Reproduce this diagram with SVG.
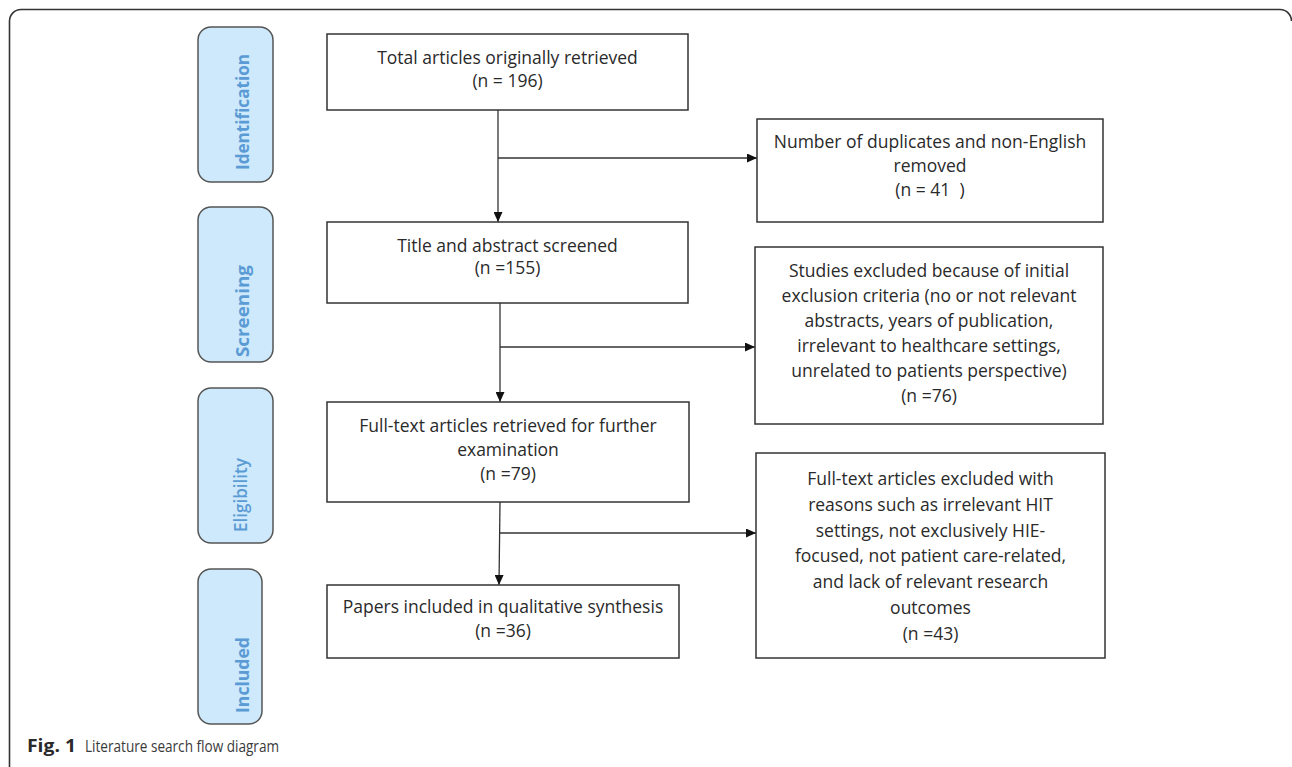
<svg xmlns="http://www.w3.org/2000/svg" width="1292" height="767" viewBox="0 0 1292 767">
<defs>
<style>
.frame{fill:none;stroke:#333;stroke-width:1.6}
.box{fill:#fff;stroke:#333;stroke-width:1.5}
.phase{fill:#cde9fb;stroke:#555;stroke-width:1.5}
.t{font-family:"Open Sans","Noto Sans","Liberation Sans",sans-serif;font-size:17.5px;fill:#2a2a2a;text-anchor:middle}
.pl{font-family:"Open Sans","Noto Sans","Liberation Sans",sans-serif;font-size:18px;font-weight:bold;fill:#5b9bd5}
.cap{font-family:"Open Sans","Noto Sans","Liberation Sans",sans-serif;font-size:16px;fill:#3a3a3a}
.capb{font-family:"Open Sans","Noto Sans","Liberation Sans",sans-serif;font-size:17px;font-weight:bold;fill:#2a2a2a}
.ln{fill:none;stroke:#333;stroke-width:1.3}
</style>
<marker id="ah" markerWidth="10" markerHeight="9" refX="10" refY="4.5" orient="auto" markerUnits="userSpaceOnUse">
<path d="M0,0 L10,4.5 L0,9 z" fill="#111"/>
</marker>
</defs>
<rect width="1292" height="767" fill="#fff"/>
<path class="frame" d="M9.5 767 V21 A11.5 11.5 0 0 1 21 9.5 H1280 A11.5 11.5 0 0 1 1291.5 21"/>

<g id="phase-identification">
<rect class="phase" x="198" y="27" width="75" height="155" rx="13"/>
<text class="pl" transform="translate(249,170) rotate(-90)" textLength="116" lengthAdjust="spacingAndGlyphs">Identification</text>
</g>
<g id="phase-screening">
<rect class="phase" x="198" y="207" width="75" height="155" rx="13"/>
<text class="pl" transform="translate(249,357) rotate(-90)" textLength="92" lengthAdjust="spacingAndGlyphs">Screening</text>
</g>
<g id="phase-eligibility">
<rect class="phase" x="198" y="388" width="75" height="155" rx="13"/>
<text class="pl" style="font-weight:600" transform="translate(247,532) rotate(-90)" textLength="74" lengthAdjust="spacingAndGlyphs">Eligibility</text>
</g>
<g id="phase-included">
<rect class="phase" x="198" y="569" width="64" height="155" rx="13"/>
<text class="pl" transform="translate(249,713) rotate(-90)" textLength="76" lengthAdjust="spacingAndGlyphs">Included</text>
</g>

<g id="connectors">
<path class="ln" d="M498 110 V222" marker-end="url(#ah)"/>
<path class="ln" d="M498 158 H757" marker-end="url(#ah)"/>
<path class="ln" d="M500 303 V402" marker-end="url(#ah)"/>
<path class="ln" d="M500 347 H755" marker-end="url(#ah)"/>
<path class="ln" d="M500 502 L499 585" marker-end="url(#ah)"/>
<path class="ln" d="M500 533 H756" marker-end="url(#ah)"/>
</g>

<g id="node-total">
<rect class="box" x="327" y="34" width="361" height="76"/>
<text class="t" x="507.5" y="64">Total articles originally retrieved</text>
<text class="t" x="507.5" y="87">(n = 196)</text>
</g>
<g id="node-screened">
<rect class="box" x="327" y="222" width="361" height="81"/>
<text class="t" x="507.5" y="252">Title and abstract screened</text>
<text class="t" x="507.5" y="274">(n =155)</text>
</g>
<g id="node-fulltext">
<rect class="box" x="327" y="402" width="362" height="100"/>
<text class="t" x="508" y="432">Full-text articles retrieved for further</text>
<text class="t" x="508" y="456">examination</text>
<text class="t" x="508" y="480">(n =79)</text>
</g>
<g id="node-included">
<rect class="box" x="327" y="585" width="352" height="73"/>
<text class="t" x="503" y="613">Papers included in qualitative synthesis</text>
<text class="t" x="503" y="637">(n =36)</text>
</g>
<g id="node-duplicates">
<rect class="box" x="757" y="119" width="346" height="103"/>
<text class="t" x="930" y="148">Number of duplicates and non-English</text>
<text class="t" x="930" y="172">removed</text>
<text class="t" x="930" y="196" style="white-space:pre">(n = 41  )</text>
</g>
<g id="node-excluded-initial">
<rect class="box" x="755" y="247" width="348" height="177"/>
<text class="t" x="929" y="277">Studies excluded because of initial</text>
<text class="t" x="929" y="302">exclusion criteria (no or not relevant</text>
<text class="t" x="929" y="327">abstracts, years of publication,</text>
<text class="t" x="929" y="352">irrelevant to healthcare settings,</text>
<text class="t" x="929" y="377">unrelated to patients perspective)</text>
<text class="t" x="929" y="402">(n =76)</text>
</g>
<g id="node-excluded-fulltext">
<rect class="box" x="756" y="453" width="349" height="205"/>
<text class="t" x="930.5" y="485">Full-text articles excluded with</text>
<text class="t" x="930.5" y="511">reasons such as irrelevant HIT</text>
<text class="t" x="930.5" y="537">settings, not exclusively HIE-</text>
<text class="t" x="930.5" y="562">focused, not patient care-related,</text>
<text class="t" x="930.5" y="588">and lack of relevant research</text>
<text class="t" x="930.5" y="614">outcomes</text>
<text class="t" x="930.5" y="640">(n =43)</text>
</g>

<text class="capb" x="27" y="752" textLength="49" lengthAdjust="spacingAndGlyphs">Fig. 1</text>
<text class="cap" x="85" y="752" textLength="194" lengthAdjust="spacingAndGlyphs">Literature search flow diagram</text>
</svg>
